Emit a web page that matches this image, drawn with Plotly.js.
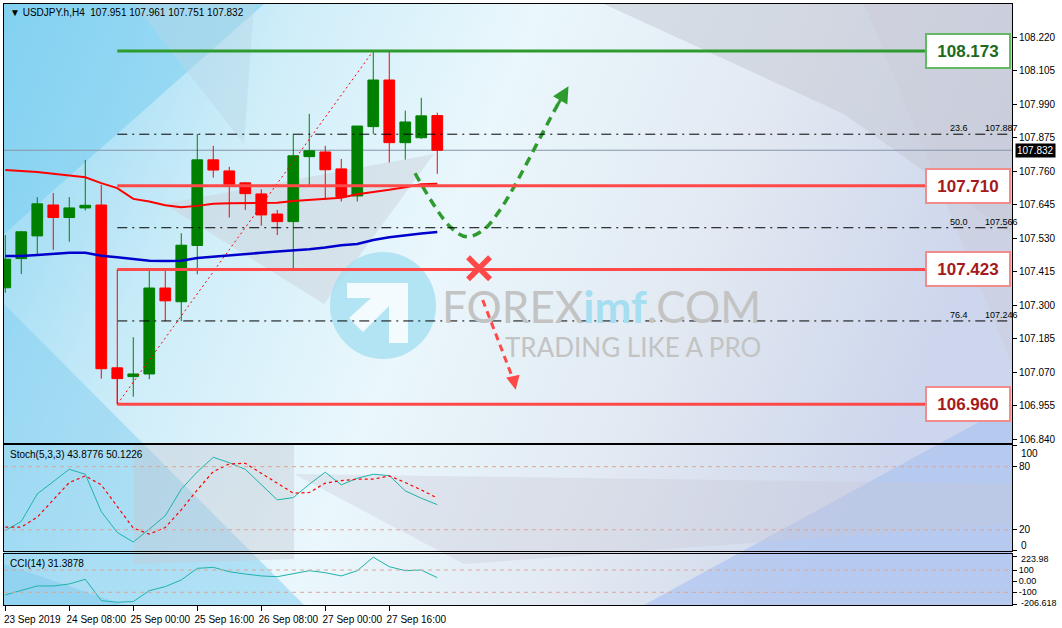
<!DOCTYPE html>
<html><head><meta charset="utf-8">
<script src="https://cdn.plot.ly/plotly-3.0.1.min.js"></script>
<style>html,body{margin:0;padding:0;background:#fff;}#chart{width:1062px;height:628px;}</style>
</head><body><div id="chart"></div>
<script>
// ---------------- DATA ----------------
const tickIdx = [0, 4, 8, 12, 16, 20, 24];
const tickLabels = ['23 Sep 2019', '24 Sep 08:00', '25 Sep 00:00', '25 Sep 16:00', '26 Sep 08:00', '27 Sep 00:00', '27 Sep 16:00'];

const open  = [107.360,107.460,107.538,107.644,107.601,107.634,107.644,107.085,107.055,107.064,107.359,107.312,107.505,107.799,107.761,107.720,107.682,107.613,107.587,107.810,107.826,107.768,107.675,107.913,108.073,107.858,107.875,107.951];
const high  = [107.541,107.555,107.671,107.685,107.671,107.799,107.713,107.085,107.190,107.419,107.419,107.547,107.888,107.847,107.775,107.723,107.698,107.627,107.888,107.957,107.847,107.802,107.915,108.173,108.173,107.968,108.012,107.961];
const low   = [107.343,107.407,107.473,107.490,107.518,107.625,107.048,106.960,106.986,107.046,107.245,107.245,107.406,107.738,107.601,107.627,107.573,107.541,107.427,107.711,107.661,107.656,107.656,107.887,107.790,107.800,107.871,107.751];
const close = [107.458,107.552,107.648,107.601,107.634,107.643,107.082,107.048,107.064,107.359,107.315,107.506,107.799,107.764,107.714,107.683,107.610,107.587,107.813,107.830,107.765,107.673,107.915,108.073,107.858,107.929,107.950,107.832];

const maRed  = [107.764,107.761,107.757,107.751,107.746,107.739,107.719,107.702,107.665,107.656,107.643,107.636,107.641,107.648,107.650,107.650,107.651,107.652,107.658,107.661,107.664,107.669,107.681,107.688,107.696,107.705,107.715,107.717];
const maBlue = [107.469,107.469,107.472,107.476,107.480,107.480,107.470,107.465,107.458,107.453,107.452,107.453,107.462,107.467,107.472,107.475,107.480,107.484,107.487,107.492,107.498,107.506,107.510,107.524,107.533,107.540,107.546,107.551];

const stochK = [19.3,27.9,54.1,65.8,77.5,72.8,37.3,17.4,8.3,20.6,33.3,58.6,75.0,88.9,83.8,77.5,63.3,48.4,50.6,63.3,74.7,62.7,69.0,72.8,71.5,57.0,50.0,43.9];
const stochD = [22.5,22.5,32.0,48.4,64.9,71.2,62.7,42.1,21.6,15.9,22.2,39.0,57.9,75.3,82.6,83.2,73.7,64.3,54.8,55.4,64.3,66.7,68.1,68.1,71.2,64.9,57.9,50.1];
const cci    = [-123.5,-85,-43,-43,-25,17,-174.6,-189,-183,-85,-49,11,115,124,85,64,47,40,64,94,76,47,94,215,130,94,100,31.4];

const priceTicks = [108.220,108.105,107.990,107.875,107.760,107.645,107.530,107.415,107.300,107.185,107.070,106.955,106.840];
const priceTickText = ['108.220','108.105','107.990','107.875','107.760','107.645','107.530','107.415','107.300','107.185','107.070','106.955','106.840'];
const stochTicks = [0, 20, 80, 100];
const stochTickText = ['', '20', '80', ''];
const stochEdgeText = ['100', '0'];
const cciTicks = [-206.618, -100, 0, 100, 223.98];
const cciTickText = ['', '-100', '0.00', '100', ''];
const cciEdgeText = ['223.98', '-206.618'];

const levels = [108.173, 107.710, 107.423, 106.960];
const levelText = ['108.173', '107.710', '107.423', '106.960'];
const fibPct = ['23.6', '50.0', '76.4'];
const fibPrice = [107.887, 107.566, 107.246];
const fibText = ['107.887', '107.566', '107.246'];
const lastPrice = 107.832;

// projected paths (bar index, price)
const upPathX = [25.61, 27.79, 28.84, 29.88, 30.92, 31.75, 32.59, 33.63, 34.46, 35.10];
const upPathY = [107.753, 107.570, 107.535, 107.558, 107.627, 107.702, 107.787, 107.896, 107.982, 108.040];
const downPathX = [29.84, 31.85];
const downPathY = [107.318, 107.030];
const crossX = [29.61];
const crossY = [107.427];

// ---------------- LAYOUT HELPERS ----------------
const idx = open.map((_, i) => i);
const XR = [-0.08, 62.92];
const PL = 4, PT = 4, PW = 1008, PB = 605, PH = PB - PT;
const pxX = x => (x - PL) / PW;
const pxY = y => (PB - y) / PH;

const GREEN = '#008000', RED = '#ff0000';
const LINE_RED = '#ff4848', LINE_GREEN = '#2e9b2e';

const bgSvg = `<svg xmlns='http://www.w3.org/2000/svg' width='1008' height='601' viewBox='0 0 1008 601' preserveAspectRatio='none'>
<defs><linearGradient id='g' x1='0' y1='0' x2='1' y2='0.25'>
<stop offset='0' stop-color='#8fd5f2'/><stop offset='0.28' stop-color='#d0eef9'/><stop offset='0.5' stop-color='#eaf7fc'/><stop offset='0.75' stop-color='#e2e9f2'/><stop offset='1' stop-color='#cdd6ec'/></linearGradient></defs>
<rect width='1008' height='601' fill='url(#g)'/>
<polygon points='0,0 260,0 0,230' fill='#79cdf1' opacity='0.55'/>
<polygon points='130,0 250,0 240,140' fill='#b9d6e6' opacity='0.45'/>
<polygon points='600,0 1008,0 1008,230 840,110' fill='#c3c7d2' opacity='0.5'/>
<polygon points='860,0 1008,0 1008,360' fill='#cdcbd9' opacity='0.45'/>
<polygon points='160,200 430,150 320,300' fill='#c9ced6' opacity='0.45'/>
<polygon points='0,300 300,601 0,601' fill='#86cff1' opacity='0.55'/>
<polygon points='640,601 1008,400 1008,601' fill='#a6bff0' opacity='0.6'/>
<polygon points='130,441 290,441 290,555 130,560' fill='#c6c9d2' opacity='0.4'/>
<polygon points='290,470 1008,480 1008,520 460,560' fill='#c9c9d6' opacity='0.35'/>
<polygon points='0,560 120,601 0,601' fill='#7fc9ee' opacity='0.5'/>
</svg>`;

// ---------------- TRACES ----------------
const traces = [
  {type: 'candlestick', x: idx, open: open, high: high, low: low, close: close,
   xaxis: 'x', yaxis: 'y', whiskerwidth: 0,
   increasing: {line: {color: GREEN, width: 1}, fillcolor: GREEN},
   decreasing: {line: {color: RED, width: 1}, fillcolor: RED},
   hoverinfo: 'skip', showlegend: false},
  {type: 'scatter', mode: 'lines', x: idx, y: maRed, line: {color: '#ff0000', width: 2}, xaxis: 'x', yaxis: 'y', hoverinfo: 'skip', showlegend: false},
  {type: 'scatter', mode: 'lines', x: idx, y: maBlue, line: {color: '#0000cc', width: 2.5}, xaxis: 'x', yaxis: 'y', hoverinfo: 'skip', showlegend: false},
  {type: 'scatter', mode: 'lines', x: [7, 23], y: [levels[3], levels[0]], line: {color: '#ff0000', width: 1, dash: '2px,3px'}, xaxis: 'x', yaxis: 'y', hoverinfo: 'skip', showlegend: false},
  {type: 'scatter', mode: 'lines', x: upPathX, y: upPathY, line: {color: LINE_GREEN, width: 3.5, dash: '9px,6px', shape: 'spline'}, xaxis: 'x', yaxis: 'y', hoverinfo: 'skip', showlegend: false},
  {type: 'scatter', mode: 'lines', x: downPathX, y: downPathY, line: {color: LINE_RED, width: 3, dash: '7px,5px'}, xaxis: 'x', yaxis: 'y', hoverinfo: 'skip', showlegend: false},
  {type: 'scatter', mode: 'markers', x: crossX, y: crossY, marker: {symbol: 'x-thin', size: 22, line: {color: LINE_RED, width: 5.5}}, xaxis: 'x', yaxis: 'y', hoverinfo: 'skip', showlegend: false},
  {type: 'scatter', mode: 'lines', x: idx, y: stochK, line: {color: '#20b2aa', width: 1}, xaxis: 'x2', yaxis: 'y2', hoverinfo: 'skip', showlegend: false},
  {type: 'scatter', mode: 'lines', x: idx, y: stochD, line: {color: '#ff0000', width: 1.2, dash: '3px,3px'}, xaxis: 'x2', yaxis: 'y2', hoverinfo: 'skip', showlegend: false},
  {type: 'scatter', mode: 'lines', x: idx, y: cci, line: {color: '#20b2aa', width: 1}, xaxis: 'x3', yaxis: 'y3', hoverinfo: 'skip', showlegend: false}
];

// ---------------- SHAPES ----------------
const shapes = [];
shapes.push({type: 'line', xref: 'paper', yref: 'y', x0: 0, x1: 1, y0: lastPrice, y1: lastPrice, line: {color: '#8593a6', width: 1}, layer: 'below'});
fibPrice.forEach(p => shapes.push({type: 'line', xref: 'x', yref: 'y', x0: 7, x1: XR[1], y0: p, y1: p, line: {color: '#000000', width: 1, dash: '10px,5px,2px,5px'}}));
levels.forEach((p, i) => shapes.push({type: 'line', xref: 'x', yref: 'y', x0: 7, x1: 57.5, y0: p, y1: p, line: {color: i === 0 ? LINE_GREEN : LINE_RED, width: 3}}));
shapes.push({type: 'line', xref: 'x', yref: 'y', x0: 7, x1: 7, y0: levels[3], y1: levels[2], line: {color: '#ff0000', width: 1}});
[20, 80].forEach(v => shapes.push({type: 'line', xref: 'paper', yref: 'y2', x0: 0, x1: 1, y0: v, y1: v, line: {color: '#d8a89a', width: 1, dash: '4px,4px'}}));
[100, -100].forEach(v => shapes.push({type: 'line', xref: 'paper', yref: 'y3', x0: 0, x1: 1, y0: v, y1: v, line: {color: '#d8a89a', width: 1, dash: '4px,4px'}}));
shapes.push({type: 'circle', xref: 'paper', yref: 'paper', x0: pxX(330), x1: pxX(436), y0: pxY(359), y1: pxY(252), fillcolor: '#a9e0f2', line: {width: 0}, layer: 'below', opacity: 0.85});
const logoPts = [[347,283],[408,283],[408,343],[389,343],[389,306],[363,332],[349,318],[371,298],[347,298]];
shapes.push({type: 'path', xref: 'paper', yref: 'paper', path: 'M' + logoPts.map(p => pxX(p[0]) + ',' + pxY(p[1])).join(' L') + ' Z', fillcolor: '#f4fbfe', line: {width: 0}, layer: 'below'});

// ---------------- ANNOTATIONS ----------------
const annotations = [];
const baseFont = 'Liberation Sans, Arial, sans-serif';
annotations.push({xref: 'paper', yref: 'paper', x: pxX(8), y: pxY(13), xanchor: 'left', yanchor: 'middle', showarrow: false,
  text: '▼ USDJPY.h,H4  107.951 107.961 107.751 107.832', font: {family: baseFont, size: 10, color: '#000'}});
annotations.push({xref: 'paper', yref: 'paper', x: pxX(8), y: pxY(454), xanchor: 'left', yanchor: 'middle', showarrow: false,
  text: 'Stoch(5,3,3) 43.8776 50.1226', font: {family: baseFont, size: 10, color: '#000'}});
annotations.push({xref: 'paper', yref: 'paper', x: pxX(8), y: pxY(563), xanchor: 'left', yanchor: 'middle', showarrow: false,
  text: 'CCI(14) 31.3878', font: {family: baseFont, size: 10, color: '#000'}});
// edge labels of the indicator scales (MT4 draws them inside the panel)
[[stochEdgeText[0], 453, 10], [stochEdgeText[1], 545, 10], [cciEdgeText[0], 559, 9], [cciEdgeText[1], 603, 9]].forEach(e =>
  annotations.push({xref: 'paper', yref: 'paper', x: 1, y: pxY(e[1]), xanchor: 'left', yanchor: 'middle', xshift: 7, showarrow: false,
    text: e[0], font: {family: baseFont, size: e[2], color: '#000'}}));
levels.forEach((p, i) => annotations.push({xref: 'x', yref: 'y', x: 60.14, y: p, xanchor: 'center', yanchor: 'middle', showarrow: false,
  text: '<b>' + levelText[i] + '</b>', font: {family: 'Liberation Sans, Arial, sans-serif', size: 17, color: i === 0 ? '#1d6a1d' : '#a51a1a'},
  bgcolor: '#ffffff', bordercolor: i === 0 ? '#63b863' : '#f08c8c', borderwidth: 2, borderpad: 3, width: 76, height: 26}));
fibPrice.forEach((p, i) => {
  annotations.push({xref: 'x', yref: 'y', x: 58.9, y: p, xanchor: 'left', yanchor: 'bottom', yshift: -1, showarrow: false, text: fibPct[i], font: {family: baseFont, size: 9, color: '#000'}});
  annotations.push({xref: 'x', yref: 'y', x: 61.1, y: p, xanchor: 'left', yanchor: 'bottom', yshift: -1, showarrow: false, text: fibText[i], font: {family: baseFont, size: 9, color: '#000'}});
});
annotations.push({xref: 'paper', yref: 'y', x: 1, y: lastPrice, xanchor: 'left', yanchor: 'middle', xshift: 3, showarrow: false,
  text: '107.832', font: {family: baseFont, size: 10, color: '#ffffff'}, bgcolor: '#000000', borderpad: 1});
annotations.push({xref: 'x', yref: 'y', axref: 'x', ayref: 'y', x: upPathX[upPathX.length - 1] + 0.1, y: upPathY[upPathY.length - 1] + 0.012,
  ax: upPathX[upPathX.length - 2], ay: upPathY[upPathY.length - 2], text: '', showarrow: true, arrowhead: 2, arrowsize: 1.1, arrowwidth: 3, arrowcolor: LINE_GREEN});
annotations.push({xref: 'x', yref: 'y', axref: 'x', ayref: 'y', x: downPathX[1] + 0.05, y: downPathY[1] - 0.02,
  ax: downPathX[1] - 0.1, ay: downPathY[1] + 0.02, text: '', showarrow: true, arrowhead: 2, arrowsize: 1.1, arrowwidth: 2.5, arrowcolor: LINE_RED});
annotations.push({xref: 'paper', yref: 'paper', x: pxX(763), y: pxY(306), xanchor: 'right', yanchor: 'middle', showarrow: false,
  text: 'FOREX<span style="color:#a6def1"><b>imf</b></span>.COM', font: {family: 'Lato, sans-serif', size: 44, color: '#c3c3c3'}});
annotations.push({xref: 'paper', yref: 'paper', x: pxX(763), y: pxY(347), xanchor: 'right', yanchor: 'middle', showarrow: false,
  text: 'TRADING LIKE A PRO', font: {family: 'Lato, sans-serif', size: 26, color: '#c3c3c3'}});

// ---------------- LAYOUT ----------------
const axX = {range: XR, showgrid: false, zeroline: false, showline: true, mirror: true, linecolor: '#000', linewidth: 1, fixedrange: true};
const axY = {side: 'right', showgrid: false, zeroline: false, showline: true, mirror: true, linecolor: '#000', linewidth: 1,
  ticks: 'outside', ticklen: 4, tickcolor: '#000', tickfont: {family: baseFont, size: 10, color: '#000'}, fixedrange: true};

const layout = {
  width: 1062, height: 628,
  margin: {l: PL, r: 1062 - PL - PW, t: PT, b: 628 - PB},
  paper_bgcolor: '#ffffff', plot_bgcolor: 'rgba(0,0,0,0)',
  showlegend: false, hovermode: false,
  boxgap: 0.33, boxgroupgap: 0,
  xaxis: Object.assign({}, axX, {anchor: 'y', domain: [0, 1], showticklabels: false, ticks: '', rangeslider: {visible: false}}),
  xaxis2: Object.assign({}, axX, {anchor: 'y2', matches: 'x', showticklabels: false, ticks: ''}),
  xaxis3: Object.assign({}, axX, {anchor: 'y3', matches: 'x', tickmode: 'array', tickvals: tickIdx, ticktext: tickLabels,
    ticks: 'outside', ticklen: 5, tickcolor: '#000', ticklabelshift: 27, tickfont: {family: baseFont, size: 10, color: '#000'}}),
  yaxis: Object.assign({}, axY, {anchor: 'x', domain: [pxY(443), 1], range: [106.827, 108.334], tickmode: 'array', tickvals: priceTicks, ticktext: priceTickText}),
  yaxis2: Object.assign({}, axY, {anchor: 'x2', domain: [pxY(551), pxY(445)], range: [-0.2, 100.6], tickmode: 'array', tickvals: stochTicks, ticktext: stochTickText}),
  yaxis3: Object.assign({}, axY, {anchor: 'x3', domain: [0, pxY(554)], range: [-213.8, 243.7], tickmode: 'array', tickvals: cciTicks, ticktext: cciTickText,
    tickfont: {family: baseFont, size: 9, color: '#000'}}),
  images: [{source: 'data:image/svg+xml;charset=utf-8,' + encodeURIComponent(bgSvg), xref: 'paper', yref: 'paper', x: 0, y: 1, sizex: 1, sizey: 1,
    xanchor: 'left', yanchor: 'top', sizing: 'stretch', layer: 'below'}],
  shapes: shapes,
  annotations: annotations
};

Plotly.newPlot('chart', traces, layout, {staticPlot: true, displayModeBar: false});
</script>
</body></html>
